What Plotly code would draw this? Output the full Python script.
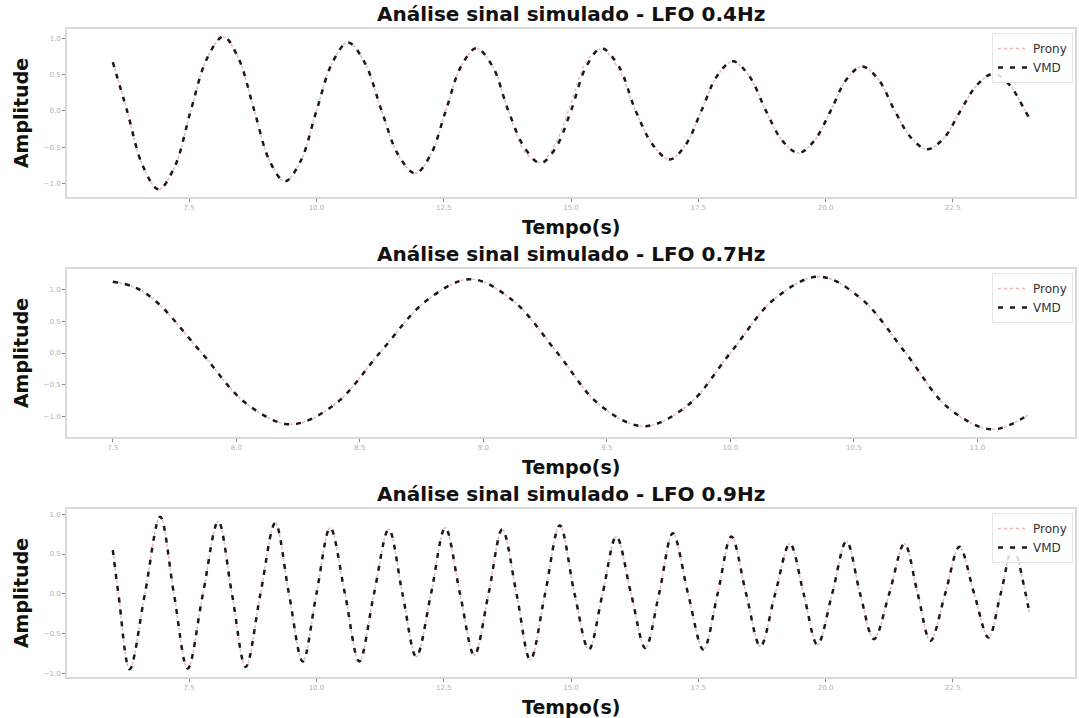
import plotly.graph_objects as go

# ---- LFO 0.4 Hz ----
t_04 = [6.00, 6.28, 6.59, 6.90, 7.22, 7.53, 7.85, 8.17, 8.47, 8.78, 9.08, 9.38,
        9.69, 10.00, 10.31, 10.62, 10.95, 11.28, 11.61, 11.94, 12.24, 12.54, 12.84, 13.14,
        13.46, 13.77, 14.09, 14.40, 14.70, 15.00, 15.30, 15.60, 15.94, 16.27, 16.61, 16.94,
        17.25, 17.56, 17.87, 18.18, 18.50, 18.83, 19.15, 19.47, 19.78, 20.10, 20.41, 20.72,
        21.04, 21.36, 21.68, 22.00, 22.33, 22.65, 22.98, 23.30, 23.61, 23.92, 24.00]
vmd_04 = [0.67, 0.00, -0.76, -1.08, -0.76, 0.00, 0.72, 1.02, 0.72, 0.00, -0.69, -0.97,
          -0.69, 0.00, 0.66, 0.94, 0.66, 0.00, -0.61, -0.86, -0.61, 0.00, 0.61, 0.86,
          0.61, 0.00, -0.51, -0.72, -0.51, 0.00, 0.61, 0.86, 0.61, 0.00, -0.47, -0.67,
          -0.47, 0.00, 0.48, 0.68, 0.48, 0.00, -0.41, -0.58, -0.41, 0.00, 0.43, 0.61,
          0.43, 0.00, -0.37, -0.53, -0.37, 0.00, 0.36, 0.51, 0.36, 0.00, -0.10]
prony_04 = [0.67, 0.00, -0.76, -1.08, -0.76, 0.00, 0.72, 1.02, 0.72, 0.00, -0.69, -0.97,
            -0.69, 0.00, 0.66, 0.94, 0.66, 0.00, -0.61, -0.86, -0.61, 0.00, 0.61, 0.86,
            0.61, 0.00, -0.56, -0.71, -0.44, 0.10, 0.68, 0.85, 0.57, 0.00, -0.47, -0.67,
            -0.47, 0.00, 0.48, 0.68, 0.48, 0.00, -0.41, -0.58, -0.41, 0.00, 0.43, 0.61,
            0.43, 0.00, -0.37, -0.53, -0.37, 0.00, 0.36, 0.51, 0.36, 0.00, -0.10]

# ---- LFO 0.7 Hz ----
t_07 = [7.50, 7.59, 7.68, 7.86, 8.04, 8.22, 8.40, 8.58, 8.77, 8.95, 9.12, 9.30, 9.47,
        9.65, 9.83, 10.00, 10.18, 10.36, 10.53, 10.71, 10.88, 11.06, 11.21]
vmd_07 = [1.13, 1.04, 0.80, 0.00, -0.80, -1.13, -0.81, 0.00, 0.83, 1.17, 0.83, 0.00, -0.82,
          -1.16, -0.82, 0.00, 0.86, 1.21, 0.86, 0.00, -0.86, -1.21, -0.97]
prony_07 = [1.13, 1.04, 0.80, 0.00, -0.80, -1.13, -0.81, 0.00, 0.83, 1.17, 0.83, 0.00, -0.82,
            -1.16, -0.82, 0.00, 0.86, 1.21, 0.86, 0.00, -0.86, -1.21, -0.97]

# ---- LFO 0.9 Hz ----
t_09 = [6.00, 6.11, 6.33, 6.63, 6.93, 7.20, 7.47, 7.77, 8.07, 8.34, 8.61, 8.90,
        9.19, 9.46, 9.73, 10.00, 10.27, 10.56, 10.84, 11.13, 11.42, 11.69, 11.96, 12.25,
        12.53, 12.82, 13.10, 13.38, 13.65, 13.93, 14.20, 14.49, 14.78, 15.07, 15.35, 15.62,
        15.89, 16.18, 16.46, 16.73, 17.00, 17.30, 17.60, 17.88, 18.15, 18.44, 18.72, 19.01,
        19.30, 19.57, 19.84, 20.13, 20.41, 20.68, 20.95, 21.25, 21.55, 21.81, 22.06, 22.35,
        22.63, 22.92, 23.20, 23.44, 23.68, 23.93, 24.00]
vmd_09 = [0.55, 0.00, -0.95, 0.00, 0.97, 0.00, -0.94, 0.00, 0.91, 0.00, -0.92, 0.00,
          0.89, 0.00, -0.85, 0.00, 0.83, 0.00, -0.85, 0.00, 0.81, 0.00, -0.79, 0.00,
          0.83, 0.00, -0.77, 0.00, 0.81, 0.00, -0.83, 0.00, 0.86, 0.00, -0.70, 0.00,
          0.72, 0.00, -0.68, 0.00, 0.76, 0.00, -0.70, 0.00, 0.72, 0.00, -0.66, 0.00,
          0.63, 0.00, -0.64, 0.00, 0.66, 0.00, -0.57, 0.00, 0.63, 0.00, -0.59, 0.00,
          0.59, 0.00, -0.55, 0.00, 0.58, 0.00, -0.23]
prony_09 = list(vmd_09)

titles = ["Análise sinal simulado - LFO 0.4Hz",
          "Análise sinal simulado - LFO 0.7Hz",
          "Análise sinal simulado - LFO 0.9Hz"]
x_dticks = [2.5, 0.5, 2.5]

panels = [(t_04, prony_04, vmd_04), (t_07, prony_07, vmd_07), (t_09, prony_09, vmd_09)]

# figure geometry (pixels)
W, H = 1079, 718
ML, MR, MT, MB = 67, 2, 29, 41
PW, PH = W - ML - MR, H - MT - MB
panel_px = [(29, 197), (269, 437), (509, 677)]


def py(p):
    return (H - MB - p) / PH


def px(p):
    return (p - ML) / PW


BOLD = "DejaVu Sans, sans-serif"
fig = go.Figure()
annotations = []

for i, (t, pr, vm) in enumerate(panels):
    k = "" if i == 0 else str(i + 1)
    leg = "legend" + k
    fig.add_trace(go.Scatter(
        x=t, y=pr, mode="lines", name="Prony",
        line=dict(color="rgba(230,120,120,0.55)", width=1.5, dash="dot", shape="spline", smoothing=1),
        xaxis="x" + k, yaxis="y" + k, legend=leg))
    fig.add_trace(go.Scatter(
        x=t, y=vm, mode="lines", name="VMD",
        line=dict(color="#1a1a1a", width=2.5, dash="5px,7px", shape="spline", smoothing=1),
        xaxis="x" + k, yaxis="y" + k, legend=leg))

    x0, x1 = min(t), max(t)
    xm = 0.05 * (x1 - x0)
    lo = min(min(pr), min(vm))
    hi = max(max(pr), max(vm))
    ym = 0.05 * (hi - lo)
    top, bot = panel_px[i]

    axis_common = dict(showline=True, mirror=True, linecolor="#d9d9d9", linewidth=2,
                       showgrid=False, zeroline=False, ticks="outside", ticklen=3,
                       tickcolor="#888888", tickwidth=1,
                       tickfont=dict(size=7, color="#b0b0b0", family="DejaVu Sans"),
                       tickformat=".1f")
    fig.update_layout(**{
        "xaxis" + k: dict(domain=[0, 1], anchor="y" + k, range=[x0 - xm, x1 + xm],
                          tick0=0, dtick=x_dticks[i], **axis_common),
        "yaxis" + k: dict(domain=[py(bot), py(top)], anchor="x" + k, range=[lo - ym, hi + ym],
                          tick0=0, dtick=0.5, **axis_common),
        leg: dict(x=px(1075), xanchor="right", y=py(top + 4), yanchor="top",
                  bgcolor="rgba(255,255,255,0.85)", bordercolor="#e6e6e6", borderwidth=1,
                  font=dict(size=12, color="#333333", family="DejaVu Sans"),
                  tracegroupgap=0),
    })

    annotations.append(dict(text="<b>" + titles[i] + "</b>", x=0.5, y=py(top - 15),
                            xref="paper", yref="paper", showarrow=False,
                            xanchor="center", yanchor="middle",
                            font=dict(size=20, color="#111111", family=BOLD)))
    annotations.append(dict(text="<b>Tempo(s)</b>", x=0.5, y=py(bot + 30),
                            xref="paper", yref="paper", showarrow=False,
                            xanchor="center", yanchor="middle",
                            font=dict(size=19, color="#111111", family=BOLD)))
    annotations.append(dict(text="<b>Amplitude</b>", x=px(21), y=py((top + bot) / 2),
                            xref="paper", yref="paper", showarrow=False, textangle=-90,
                            xanchor="center", yanchor="middle",
                            font=dict(size=19, color="#111111", family=BOLD)))

fig.update_layout(width=W, height=H, margin=dict(l=ML, r=MR, t=MT, b=MB),
                  paper_bgcolor="white", plot_bgcolor="white",
                  annotations=annotations, showlegend=True)

fig.write_html("out.html")
